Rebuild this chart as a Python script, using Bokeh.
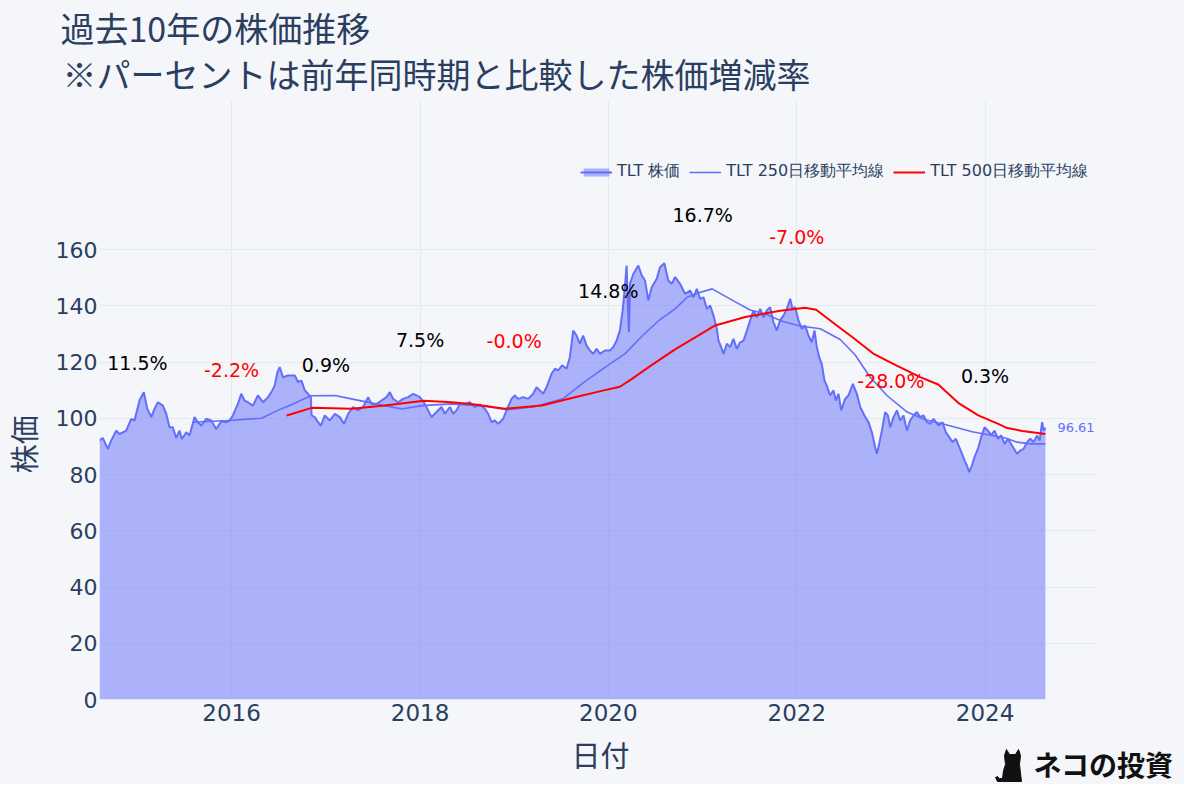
from datetime import datetime
from bokeh.plotting import figure
from bokeh.layouts import column, row
from bokeh.models import (Range1d, FixedTicker, DatetimeTickFormatter, Label,
                          Legend, LegendItem)
from bokeh.core.properties import value
from bokeh.embed import file_html
from bokeh.resources import INLINE

# ---------------- data ----------------
price_years = [
    2014.597, 2014.632, 2014.685, 2014.722, 2014.775, 2014.810, 2014.881, 2014.934, 2014.969,
    2015.022, 2015.068, 2015.104, 2015.147, 2015.182, 2015.217, 2015.270, 2015.306, 2015.341,
    2015.376, 2015.412, 2015.447, 2015.472, 2015.519, 2015.554, 2015.607, 2015.642, 2015.678,
    2015.731, 2015.784, 2015.837, 2015.891, 2015.944, 2015.979, 2016.014, 2016.067, 2016.103,
    2016.138, 2016.173, 2016.226, 2016.279, 2016.333, 2016.386, 2016.422, 2016.457, 2016.486,
    2016.510, 2016.545, 2016.598, 2016.670, 2016.705, 2016.741, 2016.776, 2016.811, 2016.840,
    2016.848, 2016.882, 2016.917, 2016.946, 2016.988, 2017.041, 2017.095, 2017.148, 2017.193,
    2017.236, 2017.289, 2017.342, 2017.395, 2017.448, 2017.485, 2017.538, 2017.591, 2017.644,
    2017.679, 2017.714, 2017.767, 2017.820, 2017.874, 2017.927, 2017.963, 2017.998, 2018.051,
    2018.086, 2018.122, 2018.175, 2018.228, 2018.264, 2018.317, 2018.352, 2018.388, 2018.423,
    2018.476, 2018.529, 2018.582, 2018.635, 2018.689, 2018.724, 2018.760, 2018.795, 2018.830,
    2018.883, 2018.919, 2018.972, 2019.007, 2019.043, 2019.096, 2019.149, 2019.202, 2019.238,
    2019.273, 2019.308, 2019.344, 2019.397, 2019.433, 2019.468, 2019.510, 2019.557, 2019.592,
    2019.627, 2019.663, 2019.698, 2019.733, 2019.769, 2019.804, 2019.840, 2019.876, 2019.911,
    2019.964, 2020.017, 2020.052, 2020.088, 2020.123, 2020.152, 2020.176, 2020.194, 2020.208,
    2020.219, 2020.230, 2020.265, 2020.318, 2020.354, 2020.389, 2020.424, 2020.460, 2020.513,
    2020.548, 2020.594, 2020.636, 2020.673, 2020.708, 2020.761, 2020.814, 2020.867, 2020.902,
    2020.938, 2020.973, 2021.009, 2021.045, 2021.080, 2021.115, 2021.151, 2021.168, 2021.197,
    2021.221, 2021.257, 2021.292, 2021.327, 2021.363, 2021.398, 2021.434, 2021.470, 2021.505,
    2021.540, 2021.576, 2021.611, 2021.646, 2021.682, 2021.717, 2021.752, 2021.788, 2021.823,
    2021.858, 2021.895, 2021.930, 2021.954, 2021.983, 2022.018, 2022.054, 2022.089, 2022.124,
    2022.160, 2022.188, 2022.213, 2022.238, 2022.266, 2022.294, 2022.319, 2022.354, 2022.390,
    2022.415, 2022.443, 2022.472, 2022.514, 2022.549, 2022.596, 2022.638, 2022.674, 2022.719,
    2022.762, 2022.798, 2022.833, 2022.851, 2022.876, 2022.904, 2022.939, 2022.968, 2022.993,
    2023.028, 2023.064, 2023.099, 2023.134, 2023.170, 2023.205, 2023.240, 2023.276, 2023.311,
    2023.347, 2023.383, 2023.418, 2023.453, 2023.506, 2023.548, 2023.584, 2023.620, 2023.655,
    2023.691, 2023.726, 2023.755, 2023.782, 2023.808, 2023.832, 2023.861, 2023.888, 2023.924,
    2023.960, 2023.995, 2024.031, 2024.066, 2024.101, 2024.137, 2024.172, 2024.207, 2024.243,
    2024.286, 2024.339, 2024.374, 2024.409, 2024.445, 2024.480, 2024.515, 2024.552, 2024.579,
    2024.605, 2024.622, 2024.640,
]
price_values = [
    92.1, 93.0, 89.1, 92.1, 95.6, 94.4, 95.6, 99.8, 99.2,
    106.3, 109.3, 103.4, 100.4, 103.4, 105.7, 104.5, 101.6, 96.8,
    96.8, 93.0, 95.6, 92.6, 95.0, 93.9, 100.4, 98.6, 97.4,
    99.8, 99.2, 96.2, 98.9, 98.6, 99.2, 101.0, 105.1, 108.7,
    106.3, 105.7, 104.5, 108.1, 105.7, 107.5, 109.3, 111.6, 116.4,
    118.2, 114.6, 115.2, 115.2, 112.9, 113.4, 109.9, 108.7, 107.5,
    101.0, 100.4, 98.6, 97.4, 101.0, 99.2, 101.6, 100.4, 98.0,
    101.6, 104.0, 102.8, 104.0, 107.5, 105.1, 105.1, 106.3, 107.5,
    109.3, 106.9, 105.7, 106.9, 107.5, 108.7, 108.1, 107.5, 105.1,
    102.8, 100.4, 102.2, 104.0, 101.6, 104.0, 101.6, 102.8, 105.1,
    105.1, 105.7, 104.0, 104.9, 103.4, 101.6, 98.6, 99.2, 98.0,
    99.8, 102.8, 106.9, 108.1, 106.9, 107.5, 106.9, 108.7, 111.0,
    109.9, 108.7, 111.0, 115.8, 117.6, 117.0, 118.8, 117.6, 121.7,
    131.2, 129.4, 126.5, 129.4, 125.9, 124.1, 122.9, 124.7, 122.9,
    124.1, 124.1, 125.3, 127.6, 131.2, 138.3, 146.6, 154.3, 140.0,
    130.6, 147.8, 151.3, 154.3, 150.8, 149.0, 141.9, 146.6, 149.6,
    153.7, 155.1, 149.0, 147.8, 150.2, 147.8, 144.2, 145.4, 143.0,
    146.0, 142.5, 143.0, 138.9, 140.1, 136.5, 131.8, 127.6, 125.3,
    122.9, 126.5, 125.3, 128.2, 124.7, 127.0, 127.6, 131.2, 134.8,
    138.3, 135.9, 138.9, 135.9, 138.3, 139.5, 134.2, 131.2, 134.8,
    136.5, 138.9, 142.5, 138.9, 139.5, 134.8, 131.8, 133.0, 129.4,
    127.0, 131.2, 125.3, 121.7, 119.3, 113.4, 111.6, 108.1, 109.9,
    106.3, 108.7, 102.8, 106.9, 108.1, 112.2, 108.7, 104.0, 101.0,
    98.6, 95.0, 89.7, 87.4, 90.9, 95.6, 102.2, 101.0, 96.8,
    100.4, 102.8, 99.2, 101.0, 95.6, 99.2, 101.0, 102.2, 100.4,
    101.0, 98.6, 98.0, 99.8, 97.4, 98.6, 95.0, 93.3, 91.5,
    92.7, 89.7, 87.4, 85.0, 83.2, 80.8, 83.2, 86.2, 89.1,
    93.3, 96.8, 95.6, 93.9, 95.6, 92.7, 93.9, 90.9, 92.7,
    90.3, 87.4, 88.5, 89.1, 91.5, 92.7, 91.5, 93.9, 92.1,
    98.6, 95.6, 96.61,
]

ma250_years = [
    2015.586, 2015.957, 2016.319, 2016.489, 2016.616, 2016.840, 2017.095, 2017.180,
    2017.413, 2017.626, 2017.807, 2018.019, 2018.338, 2018.689, 2018.922, 2019.199,
    2019.518, 2019.751, 2019.996, 2020.176, 2020.346, 2020.527, 2020.708, 2020.835,
    2020.952, 2021.101, 2021.313, 2021.505, 2021.664, 2021.845, 2022.036, 2022.249,
    2022.461, 2022.621, 2022.780, 2022.961, 2023.173, 2023.365, 2023.577, 2023.864,
    2024.215, 2024.342, 2024.480, 2024.640,
]
ma250_values = [
    98.6, 99.2, 100.0, 102.8, 104.5, 108.0, 108.1, 107.5,
    105.9, 104.5, 103.3, 104.5, 105.1, 104.3, 103.0, 104.0,
    106.9, 113.0, 118.8, 122.9, 128.8, 134.5, 138.9, 143.0,
    144.5, 146.0, 142.0, 138.5, 137.1, 134.5, 132.8, 131.8,
    128.0, 122.5, 114.6, 108.0, 102.2, 99.5, 97.8, 95.2,
    93.0, 91.5, 90.9, 90.9,
]

ma500_years = [
    2016.584, 2016.850, 2017.275, 2017.626, 2018.040, 2018.338, 2018.582, 2018.901,
    2019.294, 2019.645, 2019.964, 2020.123, 2020.251, 2020.463, 2020.708, 2020.952,
    2021.133, 2021.452, 2021.823, 2022.089, 2022.206, 2022.408, 2022.599, 2022.812,
    2023.025, 2023.311, 2023.503, 2023.715, 2023.928, 2024.140, 2024.236, 2024.395,
    2024.640,
]
ma500_values = [
    101.0, 103.7, 103.4, 104.5, 106.2, 105.7, 104.9, 103.4,
    104.5, 107.5, 110.0, 111.2, 114.0, 119.0, 124.5, 129.4,
    133.0, 136.0, 138.2, 139.3, 138.6, 133.4, 128.6, 123.0,
    119.3, 114.6, 112.0, 105.5, 101.0, 98.0, 96.5, 95.5,
    94.4,
]

pct_years = [2015, 2016, 2017, 2018, 2019, 2020, 2021, 2022, 2023, 2024]
pct_positions = [119.8, 117.3, 119.1, 128.0, 127.3, 145.4, 172.4, 164.3, 113.1, 115.2]
pct_labels = ["11.5%", "-2.2%", "0.9%", "7.5%", "-0.0%", "14.8%", "16.7%", "-7.0%", "-28.0%", "0.3%"]

y_ticks = [0, 20, 40, 60, 80, 100, 120, 140, 160]
x_tick_years = [2016, 2018, 2020, 2022, 2024]
last_price = 96.61

series_names = ["TLT 株価", "TLT 250日移動平均線", "TLT 500日移動平均線"]
title_lines = ["過去10年の株価推移", "※パーセントは前年同時期と比較した株価増減率"]
y_title = "株価"
x_title = "日付"
brand = "ネコの投資"

# ---------------- helpers ----------------
EPOCH = datetime(1970, 1, 1)


def to_dt(y):
    yi = int(y)
    a = datetime(yi, 1, 1)
    b = datetime(yi + 1, 1, 1)
    return a + (b - a) * (y - yi)


def to_ms(d):
    return (d - EPOCH).total_seconds() * 1000.0


BG = "#f5f6fa"
TXT = "#2a3f5f"
BLUE = "#636efa"
CJK = "Noto Sans CJK JP"

W = 1184
HEAD_H = 100
MAIN_H = 631
FOOT_H = 53
STRIP_W = 50
PX_PER_UNIT = 2.8125


def blank(w, h):
    f = figure(width=w, height=h, x_axis_type=None, y_axis_type=None,
               x_range=Range1d(0, w), y_range=Range1d(0, h),
               output_backend="svg", toolbar_location=None,
               min_border=0, outline_line_color=None,
               background_fill_color=BG, border_fill_color=BG)
    f.grid.visible = False
    return f


# ---------------- header (titles) ----------------
head = blank(W, HEAD_H)
head.add_layout(Label(x=60, y=73, text=title_lines[0], text_font=CJK,
                      text_font_size="34px", text_color=TXT,
                      text_align="left", text_baseline="middle"))
head.add_layout(Label(x=62, y=27, text=title_lines[1], text_font=CJK,
                      text_font_size="34px", text_color=TXT,
                      text_align="left", text_baseline="middle"))

# ---------------- left strip (y title) ----------------
strip = blank(STRIP_W, MAIN_H)
strip.add_layout(Label(x=22, y=269, text=y_title, angle=1.5708, text_font=CJK,
                       text_font_size="29px", text_color=TXT,
                       text_align="center", text_baseline="middle"))

# ---------------- main chart ----------------
bottom_border = 32
frame_h = MAIN_H - bottom_border
p = figure(width=W - STRIP_W, height=MAIN_H, x_axis_type="datetime",
           output_backend="svg", toolbar_location=None,
           x_range=Range1d(to_dt(2014.597), to_dt(2025.203)),
           y_range=Range1d(0, frame_h / PX_PER_UNIT),
           min_border_left=49, min_border_right=86,
           min_border_top=0, min_border_bottom=bottom_border,
           background_fill_color=BG, border_fill_color=BG,
           outline_line_color=None)

area_r = p.varea(x=[to_dt(v) for v in price_years], y1=0, y2=price_values,
                 fill_color=BLUE, fill_alpha=0.5)
price_r = p.line(x=[to_dt(v) for v in price_years], y=price_values,
                 line_color=BLUE, line_width=2)
ma250_r = p.line(x=[to_dt(v) for v in ma250_years], y=ma250_values,
                 line_color=BLUE, line_width=1.6)
ma500_r = p.line(x=[to_dt(v) for v in ma500_years], y=ma500_values,
                 line_color="#ff0000", line_width=2)

pct_colors = ["#ff0000" if s.startswith("-") else "#000000" for s in pct_labels]
p.text(x=[to_dt(v) for v in pct_years], y=pct_positions, text=pct_labels,
       text_color=pct_colors, text_font=value("DejaVu Sans"), text_font_size="19px",
       text_align="center", text_baseline="middle")

p.add_layout(Label(x=to_ms(to_dt(price_years[-1])), y=last_price, x_offset=12,
                   text=f"{last_price:.2f}", text_color=BLUE,
                   text_font="DejaVu Sans", text_font_size="13px",
                   text_align="left", text_baseline="middle"))

xt = FixedTicker(ticks=[to_ms(datetime(y, 1, 1)) for y in x_tick_years])
yt = FixedTicker(ticks=y_ticks)
p.xaxis.ticker = xt
p.xgrid.ticker = xt
p.yaxis.ticker = yt
p.ygrid.ticker = yt
p.xaxis.formatter = DatetimeTickFormatter(years="%Y", months="%Y", days="%Y",
                                          hours="%Y", minutes="%Y")
for ax in (p.xaxis, p.yaxis):
    ax.axis_line_color = None
    ax.major_tick_line_color = None
    ax.minor_tick_line_color = None
    ax.major_tick_out = 0
    ax.major_tick_in = 0
    ax.major_label_text_font = "DejaVu Sans"
    ax.major_label_text_color = TXT
p.xaxis.major_label_text_font_size = "23px"
p.yaxis.major_label_text_font_size = "22px"
p.yaxis.major_label_standoff = 2
p.xaxis.major_label_standoff = 4
for g in (p.xgrid, p.ygrid):
    g.grid_line_color = "#e6e9f0"
    g.grid_line_width = 1

legend = Legend(items=[LegendItem(label=series_names[0], renderers=[area_r, price_r]),
                       LegendItem(label=series_names[1], renderers=[ma250_r]),
                       LegendItem(label=series_names[2], renderers=[ma500_r])],
                location=(477, 513), orientation="horizontal",
                background_fill_alpha=0, border_line_alpha=0,
                label_text_color=TXT, label_text_font="DejaVu Sans",
                label_text_font_size="16px", glyph_width=32, glyph_height=10,
                spacing=9, padding=4, margin=0, label_standoff=5)
p.add_layout(legend)

# ---------------- footer (x title + brand) ----------------
foot = blank(W, FOOT_H)
foot.add_layout(Label(x=600, y=31, text=x_title, text_font=CJK,
                      text_font_size="29px", text_color=TXT,
                      text_align="center", text_baseline="middle"))
foot.add_layout(Label(x=1033, y=21, text=brand, text_font=CJK, text_font_style="bold",
                      text_font_size="28px", text_color="#111111",
                      text_align="left", text_baseline="middle"))
cat_xs = [1005, 1004, 1006, 1009, 1015, 1018, 1020, 1019, 1021, 1002, 997, 995, 997, 999, 1002, 1003]
cat_ys = [20, 29, 35, 30, 30, 35, 29, 20, 3, 3, 3, 7, 8, 6, 6, 14]
foot.patch(cat_xs, cat_ys, fill_color="#111111", line_color="#111111")

layout = column(head, row(strip, p, spacing=0), foot, spacing=0)
layout.styles = {"background-color": BG}

open("out.html", "w").write(file_html(layout, INLINE))
